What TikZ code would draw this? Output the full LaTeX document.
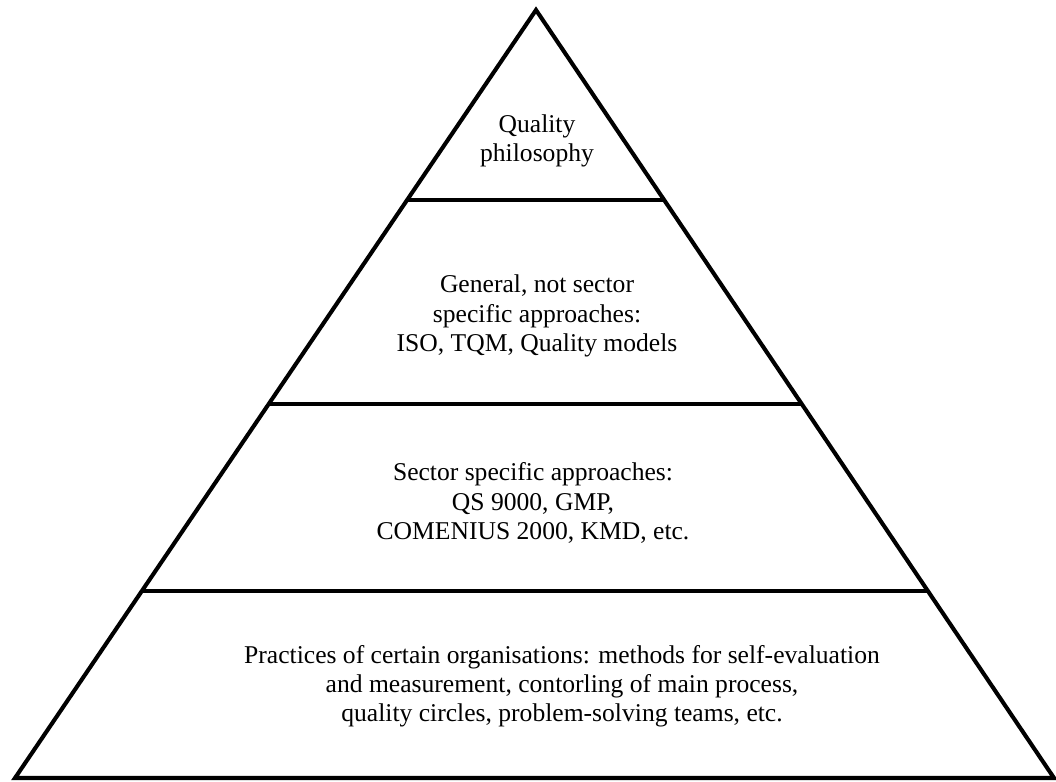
\documentclass[tikz,border=0pt]{standalone}
\usepackage{fontspec}
\setmainfont{Liberation Serif}
\usepackage{tikz}
\usetikzlibrary{calc}

\begin{document}
\begin{tikzpicture}[
			x=0.025cm, y=-0.025cm,
			edge/.style={line width=2.9pt, line join=miter},
			divider/.style={line width=2.9pt},
			layer/.style={align=center, font=\fontsize{18.2}{20.8}\selectfont, inner sep=0pt},
			]
			\useasboundingbox (0,0) rectangle (1056,781);
			%Corners
				\coordinate	(apex)		at (536,10);
				\coordinate	(base-l)	at (15,778);
				\coordinate	(base-r)	at (1054,778);
				\coordinate	(div1-l)	at ($(apex)!0.247!(base-l)$);
				\coordinate	(div1-r)	at ($(apex)!0.247!(base-r)$);
				\coordinate	(div2-l)	at ($(apex)!0.513!(base-l)$);
				\coordinate	(div2-r)	at ($(apex)!0.513!(base-r)$);
				\coordinate	(div3-l)	at ($(apex)!0.757!(base-l)$);
				\coordinate	(div3-r)	at ($(apex)!0.757!(base-r)$);

			%Nodes
				\node[layer]	(philosophy)	at (537,141)	{Quality\\philosophy};
				\node[layer]	(general)		at (537,316)	{General, not sector\\specific approaches:\\ISO, TQM, Quality models};
				\node[layer]	(sector)		at (533,503)	{Sector specific approaches:\\QS 9000, GMP,\\COMENIUS 2000, KMD, etc.};
				\node[layer]	(practices)		at (562,686)	{Practices of certain organisations: methods for self-evaluation\\and measurement, contorling of main process,\\quality circles, problem-solving teams, etc.};

			%Lines
				\draw[edge] (apex) -- (base-l) -- (base-r) -- cycle;
				\draw[divider] (div1-l) -- (div1-r);
				\draw[divider] (div2-l) -- (div2-r);
				\draw[divider] (div3-l) -- (div3-r);
		\end{tikzpicture}
\end{document}
